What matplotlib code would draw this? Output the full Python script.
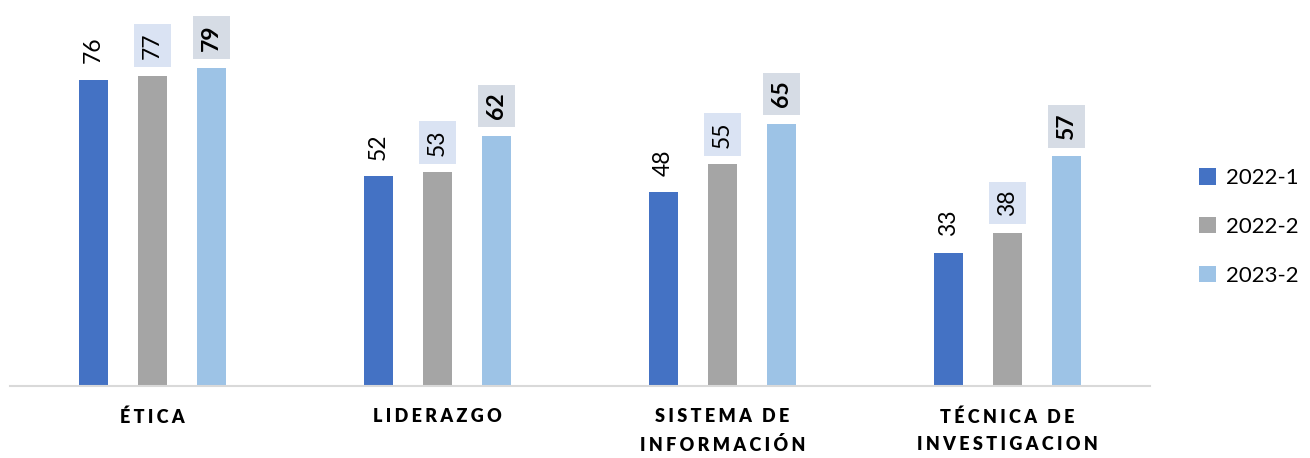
import matplotlib.pyplot as plt
import numpy as np

plt.rcParams['font.family'] = ['Lato', 'DejaVu Sans']

# data
categories = ["ÉTICA", "LIDERAZGO", "SISTEMA DE\nINFORMACIÓN", "TÉCNICA DE\nINVESTIGACION"]
series = ["2022-1", "2022-2", "2023-2"]
v_2022_1 = [76, 52, 48, 33]
v_2022_2 = [77, 53, 55, 38]
v_2023_2 = [79, 62, 65, 57]
values = [v_2022_1, v_2022_2, v_2023_2]

colors = ["#4472C4", "#A5A5A5", "#9DC3E6"]
box_colors = [None, "#DAE3F3", "#D6DCE5"]


def spaced(txt):
    # letter spacing like the original
    sp = "\u2009\u200a"
    return "\n".join(sp.join(line).replace(sp + " " + sp, sp * 3) for line in txt.split("\n"))


fig = plt.figure(figsize=(13.1, 4.58), dpi=100)
ax = fig.add_axes([10 / 1310, 72 / 458, 1140 / 1310, 383 / 458])

x = np.arange(len(categories))
w = 0.105
step = 0.207
for i, vals in enumerate(values):
    pos = x + (i - 1) * step
    ax.bar(pos, vals, width=w, color=colors[i], label=series[i], zorder=2)
    for p, v in zip(pos, vals):
        bbox = None
        weight = "normal"
        if box_colors[i]:
            bbox = dict(boxstyle="square,pad=0.35", fc=box_colors[i], ec="none")
        if i == 2:
            weight = "bold"
        ax.annotate(str(v), (p, v), xytext=(0, 12), textcoords="offset points",
                    rotation=90, ha="center", va="bottom", fontsize=16.5,
                    fontweight=weight, bbox=bbox)

ax.set_xlim(-0.5, len(categories) - 0.5)
ax.set_ylim(0, 95)
ax.set_yticks([])
for s in ["top", "right", "left"]:
    ax.spines[s].set_visible(False)
ax.spines["bottom"].set_color("#D9D9D9")
ax.spines["bottom"].set_linewidth(1.5)
ax.set_xticks(x)
ax.set_xticklabels([spaced(c) for c in categories], fontsize=13, fontweight="heavy",
                   linespacing=1.75)
ax.tick_params(axis="x", length=0, pad=16)

fig.legend(loc="center left", bbox_to_anchor=(1199 / 1310, 1 - 227 / 458), frameon=False,
           fontsize=16, handlelength=0.75, handleheight=0.75, labelspacing=1.3,
           handletextpad=0.45, borderaxespad=0, borderpad=0)

fig.savefig("out.png", dpi=100)
